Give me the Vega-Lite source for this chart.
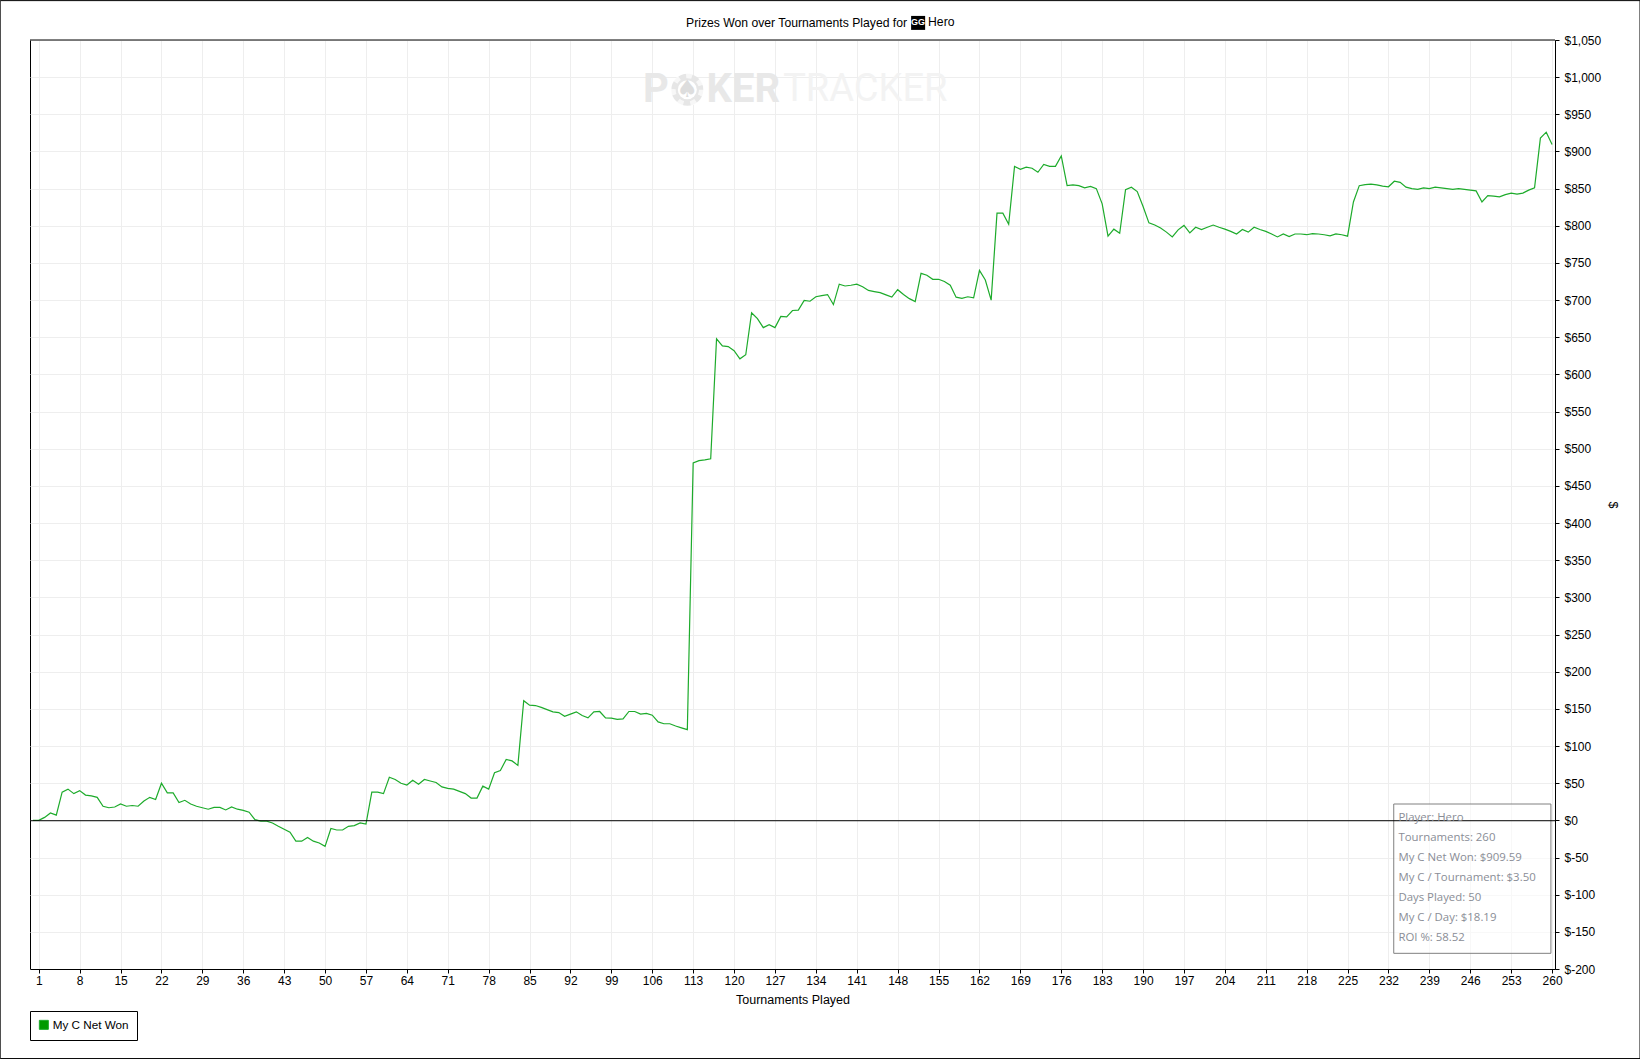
{"$schema":"https://vega.github.io/schema/vega-lite/v6.json","width":1525,"height":929,"autosize":{"type":"none"},"padding":{"left":30,"top":40,"right":85,"bottom":90},"background":"white","title":{"text":"Prizes Won over Tournaments Played for","anchor":"start","frame":"group","dx":656,"offset":-29,"font":"Liberation Sans","fontSize":12.2,"fontWeight":"normal","color":"black"},"config":{"view":{"stroke":"black","strokeWidth":1},"axis":{"labelFont":"Liberation Sans","titleFont":"Liberation Sans","labelFontSize":12,"titleFontSize":12.5,"titleFontWeight":"normal","labelColor":"black","titleColor":"black","tickColor":"black","domainColor":"black","gridColor":"#eeeeee","gridWidth":1,"tickSize":4,"labelOverlap":false,"labelSeparation":0,"labelBound":false}},"datasets":{"net":[{"t":0,"net":0},{"t":1,"net":0},{"t":2,"net":4},{"t":3,"net":10},{"t":4,"net":7},{"t":5,"net":38},{"t":6,"net":42},{"t":7,"net":36},{"t":8,"net":40},{"t":9,"net":34},{"t":10,"net":33},{"t":11,"net":31},{"t":12,"net":19},{"t":13,"net":17},{"t":14,"net":18},{"t":15,"net":22},{"t":16,"net":19},{"t":17,"net":20},{"t":18,"net":19},{"t":19,"net":26},{"t":20,"net":31},{"t":21,"net":28},{"t":22,"net":50},{"t":23,"net":37},{"t":24,"net":37},{"t":25,"net":24},{"t":26,"net":27},{"t":27,"net":22},{"t":28,"net":19},{"t":29,"net":17},{"t":30,"net":15},{"t":31,"net":17.5},{"t":32,"net":17.5},{"t":33,"net":14},{"t":34,"net":18},{"t":35,"net":15},{"t":36,"net":13.5},{"t":37,"net":11},{"t":38,"net":1},{"t":39,"net":-1},{"t":40,"net":-1},{"t":41,"net":-3.5},{"t":42,"net":-8},{"t":43,"net":-12},{"t":44,"net":-16},{"t":45,"net":-28},{"t":46,"net":-28},{"t":47,"net":-23},{"t":48,"net":-28},{"t":49,"net":-30.5},{"t":50,"net":-35},{"t":51,"net":-11},{"t":52,"net":-13},{"t":53,"net":-13},{"t":54,"net":-8},{"t":55,"net":-7},{"t":56,"net":-3.5},{"t":57,"net":-5},{"t":58,"net":38},{"t":59,"net":38},{"t":60,"net":36},{"t":61,"net":58},{"t":62,"net":55},{"t":63,"net":50},{"t":64,"net":47.5},{"t":65,"net":54},{"t":66,"net":48.5},{"t":67,"net":55},{"t":68,"net":53},{"t":69,"net":51},{"t":70,"net":45},{"t":71,"net":43},{"t":72,"net":42},{"t":73,"net":39},{"t":74,"net":36},{"t":75,"net":30},{"t":76,"net":30},{"t":77,"net":46},{"t":78,"net":42},{"t":79,"net":64},{"t":80,"net":67},{"t":81,"net":82},{"t":82,"net":80},{"t":83,"net":74},{"t":84,"net":161},{"t":85,"net":155},{"t":86,"net":154.5},{"t":87,"net":152},{"t":88,"net":149},{"t":89,"net":146},{"t":90,"net":145},{"t":91,"net":140},{"t":92,"net":143},{"t":93,"net":146},{"t":94,"net":141},{"t":95,"net":138},{"t":96,"net":146},{"t":97,"net":146.5},{"t":98,"net":138},{"t":99,"net":137.5},{"t":100,"net":136},{"t":101,"net":136.5},{"t":102,"net":146.5},{"t":103,"net":146.5},{"t":104,"net":143},{"t":105,"net":144},{"t":106,"net":141.5},{"t":107,"net":132.5},{"t":108,"net":130},{"t":109,"net":130},{"t":110,"net":127},{"t":111,"net":124.5},{"t":112,"net":122},{"t":113,"net":481},{"t":114,"net":484},{"t":115,"net":485},{"t":116,"net":486.5},{"t":117,"net":648},{"t":118,"net":638.5},{"t":119,"net":637.5},{"t":120,"net":632},{"t":121,"net":621},{"t":122,"net":626.5},{"t":123,"net":683},{"t":124,"net":675},{"t":125,"net":663},{"t":126,"net":667},{"t":127,"net":663},{"t":128,"net":678},{"t":129,"net":677.5},{"t":130,"net":686},{"t":131,"net":686.5},{"t":132,"net":699.5},{"t":133,"net":698.5},{"t":134,"net":704.5},{"t":135,"net":706},{"t":136,"net":707.5},{"t":137,"net":694},{"t":138,"net":721.5},{"t":139,"net":719},{"t":140,"net":720},{"t":141,"net":721.5},{"t":142,"net":718},{"t":143,"net":713},{"t":144,"net":711.5},{"t":145,"net":710},{"t":146,"net":707},{"t":147,"net":704},{"t":148,"net":714},{"t":149,"net":707.5},{"t":150,"net":702},{"t":151,"net":698},{"t":152,"net":736},{"t":153,"net":733.5},{"t":154,"net":728},{"t":155,"net":728},{"t":156,"net":725},{"t":157,"net":720},{"t":158,"net":704},{"t":159,"net":702.5},{"t":160,"net":704.5},{"t":161,"net":703},{"t":162,"net":740},{"t":163,"net":727},{"t":164,"net":700},{"t":165,"net":817},{"t":166,"net":817},{"t":167,"net":802},{"t":168,"net":880},{"t":169,"net":876},{"t":170,"net":879},{"t":171,"net":877.5},{"t":172,"net":872},{"t":173,"net":882.5},{"t":174,"net":880},{"t":175,"net":880},{"t":176,"net":894},{"t":177,"net":854},{"t":178,"net":855},{"t":179,"net":854},{"t":180,"net":851},{"t":181,"net":853},{"t":182,"net":850},{"t":183,"net":829.5},{"t":184,"net":786},{"t":185,"net":795.5},{"t":186,"net":790},{"t":187,"net":848.5},{"t":188,"net":852},{"t":189,"net":846},{"t":190,"net":826},{"t":191,"net":804},{"t":192,"net":801},{"t":193,"net":797},{"t":194,"net":791.5},{"t":195,"net":785},{"t":196,"net":794.5},{"t":197,"net":800.5},{"t":198,"net":790.5},{"t":199,"net":798},{"t":200,"net":795},{"t":201,"net":798},{"t":202,"net":801},{"t":203,"net":798},{"t":204,"net":795.5},{"t":205,"net":792.5},{"t":206,"net":789},{"t":207,"net":795},{"t":208,"net":791.5},{"t":209,"net":798},{"t":210,"net":795},{"t":211,"net":792.5},{"t":212,"net":789},{"t":213,"net":785},{"t":214,"net":789},{"t":215,"net":785.5},{"t":216,"net":789},{"t":217,"net":789},{"t":218,"net":788},{"t":219,"net":789.5},{"t":220,"net":789},{"t":221,"net":788},{"t":222,"net":786.5},{"t":223,"net":789},{"t":224,"net":788},{"t":225,"net":786},{"t":226,"net":832},{"t":227,"net":854},{"t":228,"net":855.5},{"t":229,"net":856},{"t":230,"net":855},{"t":231,"net":853.5},{"t":232,"net":852.5},{"t":233,"net":860},{"t":234,"net":858.5},{"t":235,"net":852},{"t":236,"net":850},{"t":237,"net":849},{"t":238,"net":851},{"t":239,"net":850},{"t":240,"net":852},{"t":241,"net":851},{"t":242,"net":850},{"t":243,"net":849},{"t":244,"net":850},{"t":245,"net":849},{"t":246,"net":848},{"t":247,"net":847},{"t":248,"net":832},{"t":249,"net":840.5},{"t":250,"net":840},{"t":251,"net":839},{"t":252,"net":842},{"t":253,"net":844},{"t":254,"net":842.5},{"t":255,"net":844},{"t":256,"net":848},{"t":257,"net":851},{"t":258,"net":918},{"t":259,"net":926},{"t":260,"net":909.5}],"one":[{}]},"layer":[{"data":{"name":"net"},"transform":[{"calculate":"'My C Net Won'","as":"series"}],"mark":{"type":"line","strokeWidth":1.2,"interpolate":"linear"},"encoding":{"x":{"field":"t","type":"quantitative","scale":{"domain":[-0.5,260.5],"nice":false,"zero":false},"axis":{"tickCount":60,"values":[1,8,15,22,29,36,43,50,57,64,71,78,85,92,99,106,113,120,127,134,141,148,155,162,169,176,183,190,197,204,211,218,225,232,239,246,253,260],"format":"d","title":"Tournaments Played","labelPadding":2,"titlePadding":7,"labelFlush":false}},"y":{"field":"net","type":"quantitative","scale":{"domain":[-200,1050],"nice":false,"zero":false},"axis":{"orient":"right","tickCount":60,"values":[-200,-150,-100,-50,0,50,100,150,200,250,300,350,400,450,500,550,600,650,700,750,800,850,900,950,1000,1050],"labelExpr":"(datum.value<0?'$-':'$')+format(abs(datum.value),',d')","title":"$","titleAngle":90,"titlePadding":5,"labelPadding":5,"labelFlush":false}},"color":{"field":"series","type":"nominal","scale":{"domain":["My C Net Won"],"range":["#1dab2b"]},"legend":{"title":null,"orient":"none","legendX":0,"legendY":971,"symbolType":"square","symbolSize":81,"labelFont":"Liberation Sans","labelFontSize":11.7,"labelColor":"black","strokeColor":"black","fillColor":"white","padding":8,"labelOffset":3,"encode":{"symbols":{"update":{"fill":{"value":"#009900"},"stroke":{"value":"black"},"strokeWidth":{"value":1}}}}}}}},{"data":{"name":"one"},"mark":{"type":"text","text":"P","font":"Roboto","fontWeight":"bold","fontSize":40,"align":"left","baseline":"middle","color":"#e8e8e8"},"encoding":{"x":{"datum":104.4},"y":{"datum":983}}},{"data":{"name":"one"},"mark":{"type":"circle","size":1018,"color":"#e6e6e6","opacity":1},"encoding":{"x":{"datum":112},"y":{"datum":983}}},{"data":{"name":"one"},"mark":{"type":"point","shape":"circle","size":800,"filled":false,"stroke":"white","strokeWidth":5,"strokeDash":[6,7]},"encoding":{"x":{"datum":112},"y":{"datum":983}}},{"data":{"name":"one"},"mark":{"type":"circle","size":360,"color":"white","opacity":1},"encoding":{"x":{"datum":112},"y":{"datum":983}}},{"data":{"name":"one"},"mark":{"type":"text","text":"♠","font":"DejaVu Sans","fontSize":24,"align":"center","baseline":"middle","color":"#dddddd"},"encoding":{"x":{"datum":112},"y":{"datum":983}}},{"data":{"name":"one"},"mark":{"type":"text","text":"KER","font":"Roboto","fontWeight":"bold","fontSize":40,"align":"left","baseline":"middle","color":"#e8e8e8"},"encoding":{"x":{"datum":115.3},"y":{"datum":983}}},{"data":{"name":"one"},"mark":{"type":"text","text":"TRACKER","font":"Roboto","fontSize":38,"align":"left","baseline":"middle","color":"#f3f3f3"},"encoding":{"x":{"datum":128.4},"y":{"datum":983}}},{"data":{"name":"one"},"mark":{"type":"rect","fill":"white","fillOpacity":0.6,"stroke":"#808080","strokeWidth":1},"encoding":{"x":{"datum":232.9},"x2":{"datum":259.8},"y":{"datum":22},"y2":{"datum":-178.9}}},{"data":{"name":"one"},"mark":{"type":"rule","color":"black","strokeWidth":1},"encoding":{"y":{"datum":-0.5}}},{"data":{"name":"one"},"mark":{"type":"rule","color":"black","strokeWidth":1},"encoding":{"y":{"datum":1050}}},{"data":{"name":"one"},"mark":{"type":"text","text":["Player: Hero","Tournaments: 260","My C Net Won: $909.59","My C / Tournament: $3.50","Days Played: 50","My C / Day: $18.19","ROI %: 58.52"],"font":"Open Sans","fontSize":11.4,"lineHeight":20,"align":"left","baseline":"top","color":"#8a8d96"},"encoding":{"x":{"datum":233.7},"y":{"datum":11.3}}},{"data":{"name":"one"},"mark":{"type":"rect","fill":"black"},"encoding":{"x":{"datum":150.3},"x2":{"datum":152.7},"y":{"datum":1082.4},"y2":{"datum":1063.6}}},{"data":{"name":"one"},"mark":{"type":"text","text":"GG","font":"Liberation Sans","fontWeight":"bold","fontSize":9,"align":"center","baseline":"middle","color":"white"},"encoding":{"x":{"datum":151.5},"y":{"datum":1074}}},{"data":{"name":"one"},"mark":{"type":"text","text":"Hero","font":"Liberation Sans","fontSize":12.2,"align":"left","baseline":"middle","color":"black"},"encoding":{"x":{"datum":153.2},"y":{"datum":1073.6}}},{"data":{"name":"one"},"mark":{"type":"rect","fill":"none","stroke":"black","strokeWidth":1},"encoding":{"x":{"datum":-5.6},"x2":{"datum":275.05},"y":{"datum":1103},"y2":{"datum":-320.5}}}]}
